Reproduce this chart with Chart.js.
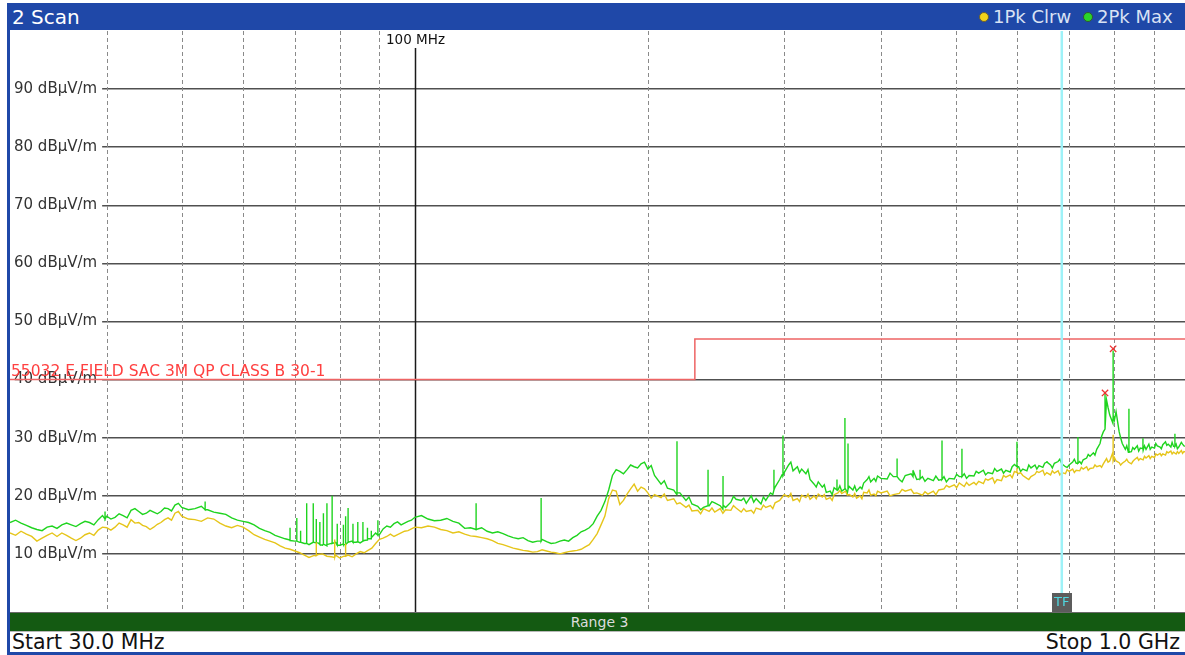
<!DOCTYPE html>
<html><head><meta charset="utf-8">
<script src="https://cdn.jsdelivr.net/npm/chart.js@4.4.1/dist/chart.umd.min.js"></script>
<style>
html,body{margin:0;padding:0;background:#fff;width:1185px;height:655px;overflow:hidden;font-family:"DejaVu Sans",sans-serif;}
.abs{position:absolute;white-space:nowrap;}
#title{left:7px;top:3px;width:1178px;height:27px;background:#1f48a8;}
#lborder{left:7px;top:30px;width:3px;height:625px;background:#1f48a8;}
#bborder{left:7px;top:652px;width:1178px;height:3px;background:#1f48a8;}
#plot{left:10px;top:31px;width:1179px;height:581px;}
#gline{left:10px;top:612px;width:1175px;height:1px;background:#6a6a6a;}
#range{left:10px;top:613px;width:1179px;height:18px;background:#145a12;color:#dcdcdc;font-size:14px;line-height:18px;text-align:center;}
#gline2{left:10px;top:631px;width:1175px;height:1px;background:#b8b8b8;}
.dot{width:8px;height:8px;border-radius:50%;}
</style></head>
<body>
<div class="abs" id="title"></div>
<div class="abs" style="left:12px;top:5px;font-size:20px;line-height:24px;color:#fff;">2 Scan</div>
<div class="abs dot" style="left:979px;top:12px;background:#f2d21a;border:1px solid #6b6030;"></div>
<div class="abs" style="left:993px;top:5px;font-size:18px;line-height:24px;color:#d9e2f4;">1Pk Clrw</div>
<div class="abs dot" style="left:1083px;top:12px;background:#2ad42a;border:1px solid #2f5a2f;"></div>
<div class="abs" style="left:1097px;top:5px;font-size:18px;line-height:24px;color:#d9e2f4;">2Pk Max</div>
<div class="abs" id="lborder"></div>
<div class="abs" id="plot"><canvas id="c" width="1179" height="581"></canvas></div>
<div class="abs" id="gline"></div>
<div class="abs" id="range">Range 3</div>
<div class="abs" id="gline2"></div>
<div class="abs" style="left:12px;top:632px;font-size:20.5px;line-height:21px;color:#111;">Start 30.0 MHz</div>
<div class="abs" style="right:5px;top:632px;font-size:20.5px;line-height:21px;color:#111;">Stop 1.0 GHz</div>
<div class="abs" id="bborder"></div>
<script>
// ---- data (MHz / dBµV/m) ----
const freqMHz = [
 30,31,32,33,34,35,36,37,38,39,40,41,42,43,44,45,46,47,48,49,50,
 52,54,56,58,60,62,64,66,68,70,72,74,76,78,80,82,84,86,88,90,92,94,96,98,100,
 104,108,112,116,120,124,128,132,136,140,144,148,152,156,160,164,168,172,176,180,184,188,192,196,200,
 208,216,224,232,240,248,256,264,272,280,288,296,304,312,320,328,336,344,352,360,368,376,384,392,400,
 415,430,445,460,475,490,505,520,535,550,565,580,595,610,625,640,655,670,685,700,715,730,745,760,775,790,805,820,835,850,865,880,895,910,925,940,955,970,985,1000];
const maxTrace = [
 15.4,15.3,14.5,14.0,14.8,15.0,15.0,15.2,15.4,15.9,16.5,16.3,16.6,17.5,17.3,17.0,17.2,17.3,17.8,18.4,18.0,
 17.8,17.6,17.0,16.2,15.6,15.0,14.0,13.2,12.6,12.2,11.8,12.0,11.5,11.8,11.5,12.0,12.0,12.3,12.8,13.3,14.8,15.2,15.0,15.6,16.3,
 16.0,15.8,15.6,14.4,14.2,13.9,13.8,13.1,12.6,12.3,12.2,12.1,11.9,12.4,12.8,13.8,14.5,16.5,19.0,23.5,24.2,24.5,25.0,25.5,24.6,
 22.0,21.0,19.2,18.2,18.3,18.3,18.9,19.2,20.0,18.6,20.5,22.8,25.3,25.0,23.8,22.0,21.5,20.8,21.0,21.2,21.0,21.5,22.8,23.0,23.0,
 23.3,23.5,22.8,23.0,22.7,23.0,23.3,23.5,23.9,24.0,24.2,24.4,25.4,24.6,24.8,25.2,25.8,25.6,25.5,25.3,25.6,26.2,26.8,28.0,31.0,33.9,34.5,29.0,27.5,28.0,28.2,28.0,28.4,28.6,28.8,28.9,28.5,28.4,28.6,28.8];
const clrwTrace = [
 13.6,13.9,13.0,12.7,13.6,13.6,12.7,12.7,13.6,14.1,14.5,14.6,15.0,15.9,15.4,14.7,14.6,15.4,16.2,17.0,16.5,
 15.9,16.2,15.3,14.5,14.6,13.3,12.5,11.9,11.0,10.5,9.8,9.7,10.0,9.5,9.3,9.8,10.0,10.2,11.0,12.5,13.0,13.0,13.6,14.0,14.6,
 14.8,14.2,13.6,13.4,13.0,12.6,11.8,11.3,10.8,10.5,10.4,10.5,10.2,10.2,10.5,10.8,11.6,13.5,16.5,21.0,18.5,20.3,22.0,21.5,20.5,
 19.7,19.5,18.0,17.5,17.3,17.8,17.5,17.2,17.5,17.6,18.3,19.2,19.8,19.5,19.7,20.0,19.8,19.7,20.5,20.8,19.8,20.0,20.5,20.3,20.5,
 20.2,20.8,20.5,20.3,21.0,21.5,22.2,21.8,22.5,22.7,22.8,23.2,24.2,23.5,23.3,24.0,24.0,23.9,24.0,24.2,24.4,24.6,24.7,25.0,25.5,26.0,26.0,25.6,25.8,26.2,26.4,26.5,26.8,27.0,27.2,27.4,27.5,27.3,27.6,27.7];
// in-between readings (trace ripple)
const freqMidMHz = [
 30.5,31.5,32.5,33.5,34.5,35.5,36.5,37.5,38.5,39.5,40.5,41.5,42.5,43.5,44.5,45.5,46.5,47.5,48.5,49.5,
 51,53,55,57,59,61,63,65,67,69,71,73,75,77,79,81,83,85,87,89,91,93,95,97,99,
 102,106,110,114,118,122,126,130,134,138,142,146,150,154,158,162,166,170,174,178,182,186,190,194,198,
 204,212,220,228,236,244,252,260,268,276,284,292,300,308,316,324,332,340,348,356,364,372,380,388,396,
 407.5,422.5,437.5,452.5,467.5,482.5,497.5,512.5,527.5,542.5,557.5,572.5,587.5,602.5,617.5,632.5,647.5,662.5,677.5,692.5,707.5,722.5,737.5,752.5,767.5,782.5,797.5,812.5,827.5,842.5,857.5,872.5,887.5,902.5,917.5,932.5,947.5,962.5,977.5,992.5];
const maxTraceMid = [
 15.8,14.9,14.2,14.6,14.4,15.3,14.7,15.6,15.0,16.6,16.0,16.9,16.2,17.8,16.8,17.5,16.9,17.9,17.4,18.7,
 17.6,18.2,17.2,16.8,15.8,15.4,14.4,13.7,12.9,12.4,12.0,11.6,11.9,11.4,12.0,11.6,12.2,11.9,12.6,13.6,14.3,14.6,15.5,15.3,15.8,
 16.6,15.7,16.1,15.3,14.5,14.5,13.6,13.5,12.8,12.8,12.0,12.5,11.8,12.2,12.2,13.2,14.1,15.2,17.5,21.0,24.5,23.8,25.3,24.8,25.8,
 23.5,21.3,20.5,18.6,18.0,18.8,18.0,19.4,18.7,19.5,19.2,21.5,24.0,24.3,24.6,22.8,22.4,20.6,21.4,20.8,21.6,20.8,22.2,22.4,23.4,
 22.9,22.8,23.8,23.3,22.6,23.3,22.9,23.8,23.4,24.4,23.8,24.6,24.1,25.0,24.3,25.3,24.9,25.3,25.9,25.0,25.8,25.9,26.5,27.4,29.0,36.5,32.5,31.0,28.0,27.6,28.6,27.8,28.9,28.2,28.4,29.3,28.4,28.9,29.2,28.5];
const clrwTraceMid = [
 13.2,13.4,12.2,13.2,13.0,13.2,12.3,13.3,13.2,14.6,14.1,15.3,14.6,15.3,14.9,14.2,15.1,15.9,15.8,17.3,
 16.0,15.6,16.0,14.8,14.9,14.0,12.9,12.2,11.4,10.8,10.2,9.4,9.9,9.6,9.8,9.6,9.5,10.4,10.6,11.8,12.7,13.4,13.3,13.9,14.3,
 14.5,14.6,14.0,13.8,13.1,12.8,12.3,11.6,11.0,10.6,10.3,10.7,10.3,10.0,10.4,10.6,11.2,12.5,15.0,19.5,20.8,19.2,21.2,20.8,21.2,
 20.2,19.2,18.8,17.4,17.8,17.2,17.6,17.9,17.3,17.9,18.0,18.8,20.2,19.2,20.1,19.4,20.3,19.4,20.2,20.4,20.2,19.6,20.6,20.1,20.8,
 20.8,20.4,21.1,20.1,20.8,21.2,21.9,21.6,22.3,22.1,23.1,22.6,23.6,23.8,23.0,23.7,24.4,23.6,24.3,23.8,24.6,24.3,25.0,24.8,25.2,26.4,27.5,25.7,26.0,25.5,26.6,26.2,26.9,26.6,27.3,27.0,27.7,27.2,27.8,27.5];
// finer readings, 200 MHz - 1 GHz
const freqQtrMHz = [
 202,210,218,226,234,242,250,258,266,274,282,290,298,306,314,322,330,338,346,354,362,370,378,386,394,
 411,426,441,456,471,486,501,516,531,546,561,576,591,606,621,636,651,666,681,696,711,726,741,756,771,786,801,816,831,846,861,876,891,906,921,936,951,966,981,996];
const maxTraceQtr = [
 25.2,22.6,20.2,19.8,17.6,19.0,17.7,19.9,19.6,18.9,19.8,20.2,23.6,25.8,24.0,24.5,21.5,21.9,20.2,21.7,20.5,21.7,21.2,23.3,22.5,
 23.9,22.4,24.1,22.5,23.4,22.4,23.7,23.0,24.2,23.6,24.7,23.9,25.0,24.2,25.3,24.6,25.6,24.8,26.3,24.9,26.3,25.5,27.1,27.0,30.2,35.2,33.0,30.0,28.6,28.3,27.7,28.6,28.0,29.0,28.1,28.7,29.2,28.1,28.9,29.1];
const clrwTraceQtr = [
 19.6,20.3,18.6,18.4,16.9,17.9,17.0,18.3,17.8,17.0,18.4,17.8,19.7,20.4,19.0,20.3,19.5,20.2,19.2,20.9,20.1,20.4,19.5,21.0,20.0,
 20.0,21.1,20.4,20.7,20.2,21.8,21.4,22.3,21.9,22.9,22.2,23.5,23.1,24.0,22.8,24.2,23.6,24.3,23.6,24.5,24.0,24.9,24.4,25.3,24.9,25.8,26.6,25.3,26.3,25.9,26.1,26.8,26.4,27.2,26.9,27.6,27.2,27.6,27.3,27.9];
// narrow spikes of the max-hold trace
const maxSpikeMHz  = [39.8,53.6,69.0,70.4,71.2,72.5,73.9,74.6,75.4,76.2,77.0,78.2,79.4,80.8,81.4,82.0,83.2,84.4,85.7,86.8,87.8,89.6,120,145.6,218.1,239.2,250.1,291,298.9,351,359.4,362.7,419.7,440,449.4,479.7,509,599.5,655.5,718.7,779,798,836.4,872,959];
const maxSpikeTop  = [17.3,19.0,14.5,16.2,14.0,18.7,18.7,16.0,15.5,17.0,18.7,20.0,15.2,15.0,16.5,17.9,15.2,15.5,15.5,14.5,14.0,15.8,18.7,19.6,29.4,24.5,23.4,24.5,30.4,22.8,33.4,29.0,26.4,24.4,24.5,29.5,28.1,29.3,26.0,30.1,37.9,45.0,35.0,29.9,30.7];
const maxSpikeBase = [16.0,17.6,12.3,12.2,12.0,11.8,12.0,11.9,11.6,11.7,11.6,11.8,11.5,11.7,11.6,12.0,12.0,12.1,12.2,12.4,12.6,13.2,14.2,12.2,20.5,18.3,18.4,21.0,23.5,21.0,21.2,21.1,23.3,23.3,22.9,22.8,23.3,25.0,25.8,25.6,31.5,33.9,27.5,28.1,28.5];
const clrwSpikeMHz  = [74.6,78.8,81.4,599.5,798];
const clrwSpikeTop  = [12.0,12.5,11.8,24.8,30.5];
const clrwSpikeBase = [9.7,9.4,9.6,24.0,26.0];
// limit line
const limitMHz = [30,230,230,1000];
const limitLevel = [40,40,47,47];
const limitName = "55032 E FIELD SAC 3M QP CLASS B 30-1";
// peak markers
const markerMHz = [798,779];
const markerLevel = [45.3,37.7];
// axes
const xGridMHz = [40,50,60,70,80,90,100,200,300,400,500,600,700,800,900];
const yTickValues = [10,20,30,40,50,60,70,80,90];
const tfMHz = 685;

function buildTrace(sets, sf, st, sb){
  const pts = [];
  sets.forEach(([f,v])=>f.forEach((x,i)=>pts.push({x:x, y:v[i]})));
  sf.forEach((x,i)=>{ pts.push({x:x,y:sb[i]},{x:x,y:st[i]},{x:x,y:sb[i]}); });
  return pts.sort((a,b)=>a.x-b.x);
}

const overlay = {
  id:'rsOverlay',
  beforeDatasetsDraw(chart){
    const {ctx, chartArea:{top,bottom}, scales:{x}} = chart;
    ctx.save();
    xGridMHz.forEach(f=>{
      const px = Math.round(x.getPixelForValue(f))+0.5;
      ctx.beginPath();
      if (f===100){
        ctx.setLineDash([]); ctx.strokeStyle='#1a1a1a'; ctx.lineWidth=1.5;
        ctx.moveTo(px, top+17); ctx.lineTo(px,bottom); ctx.stroke();
        ctx.fillStyle='#111'; ctx.font='13.5px "DejaVu Sans"'; ctx.textAlign='center'; ctx.textBaseline='middle';
        ctx.fillText('100 MHz', px, top+9);
      } else {
        ctx.setLineDash([4,3]); ctx.strokeStyle='#8a8a8a'; ctx.lineWidth=1;
        ctx.moveTo(px, top); ctx.lineTo(px,bottom); ctx.stroke();
      }
    });
    ctx.restore();
  },
  afterDatasetsDraw(chart){
    const {ctx, chartArea:{left,top,bottom}, scales:{x,y}} = chart;
    ctx.save();
    ctx.fillStyle='#ff4040'; ctx.font='15.5px "DejaVu Sans"'; ctx.textAlign='left'; ctx.textBaseline='alphabetic';
    ctx.fillText(limitName, left+1, y.getPixelForValue(limitLevel[0])-4);
    const tx = x.getPixelForValue(tfMHz);
    ctx.strokeStyle='#9ef2f8'; ctx.lineWidth=2.5;
    ctx.beginPath(); ctx.moveTo(tx, top); ctx.lineTo(tx, bottom-19); ctx.stroke();
    ctx.fillStyle='#5c5c5c'; ctx.fillRect(Math.round(tx)-10, bottom-19, 20, 19);
    ctx.fillStyle='#4fd8e0'; ctx.font='13px "DejaVu Sans"'; ctx.textAlign='center'; ctx.textBaseline='middle';
    ctx.fillText('TF', tx, bottom-9);
    ctx.restore();
  }
};

new Chart(document.getElementById('c'), {
  type:'line',
  data:{datasets:[
    {label:'markers', type:'scatter', data:markerMHz.map((f,i)=>({x:f,y:markerLevel[i]})), pointStyle:'crossRot', pointRadius:4.5, borderColor:'#ee3030', borderWidth:1.3, backgroundColor:'#ee3030', showLine:false},
    {label:'1Pk Clrw', data:buildTrace([[freqMHz,clrwTrace],[freqMidMHz,clrwTraceMid],[freqQtrMHz,clrwTraceQtr]], clrwSpikeMHz, clrwSpikeTop, clrwSpikeBase), borderColor:'#e6c51a', borderWidth:1.4, pointRadius:0, tension:0},
    {label:'2Pk Max', data:buildTrace([[freqMHz,maxTrace],[freqMidMHz,maxTraceMid],[freqQtrMHz,maxTraceQtr]], maxSpikeMHz, maxSpikeTop, maxSpikeBase), borderColor:'#1fd41f', borderWidth:1.4, pointRadius:0, tension:0},
    {label:'limit', data:limitMHz.map((f,i)=>({x:f,y:limitLevel[i]})), borderColor:'#ee6464', borderWidth:1.5, pointRadius:0, tension:0}
  ]},
  options:{
    animation:false, responsive:false, maintainAspectRatio:false, devicePixelRatio:1,
    layout:{padding:0, autoPadding:false},
    plugins:{legend:{display:false}, tooltip:{enabled:false}},
    events:[],
    scales:{
      x:{type:'logarithmic', min:30, max:1000, display:false},
      y:{type:'linear', min:0, max:100, position:'left',
         afterFit(s){ s.width=0; s.paddingTop=0; s.paddingBottom=0; },
         afterBuildTicks(s){ s.ticks = yTickValues.map(v=>({value:v})); },
         border:{display:false},
         grid:{color:'#505050', lineWidth:1.5, drawTicks:false},
         ticks:{mirror:true, padding:4, color:'#333', font:{family:'DejaVu Sans', size:15},
                callback:v=>v+' dBµV/m', showLabelBackdrop:true, backdropColor:'#fff',
                backdropPadding:{left:4,right:5,top:0,bottom:0}}}
    }
  },
  plugins:[overlay]
});
</script>
</body></html>
